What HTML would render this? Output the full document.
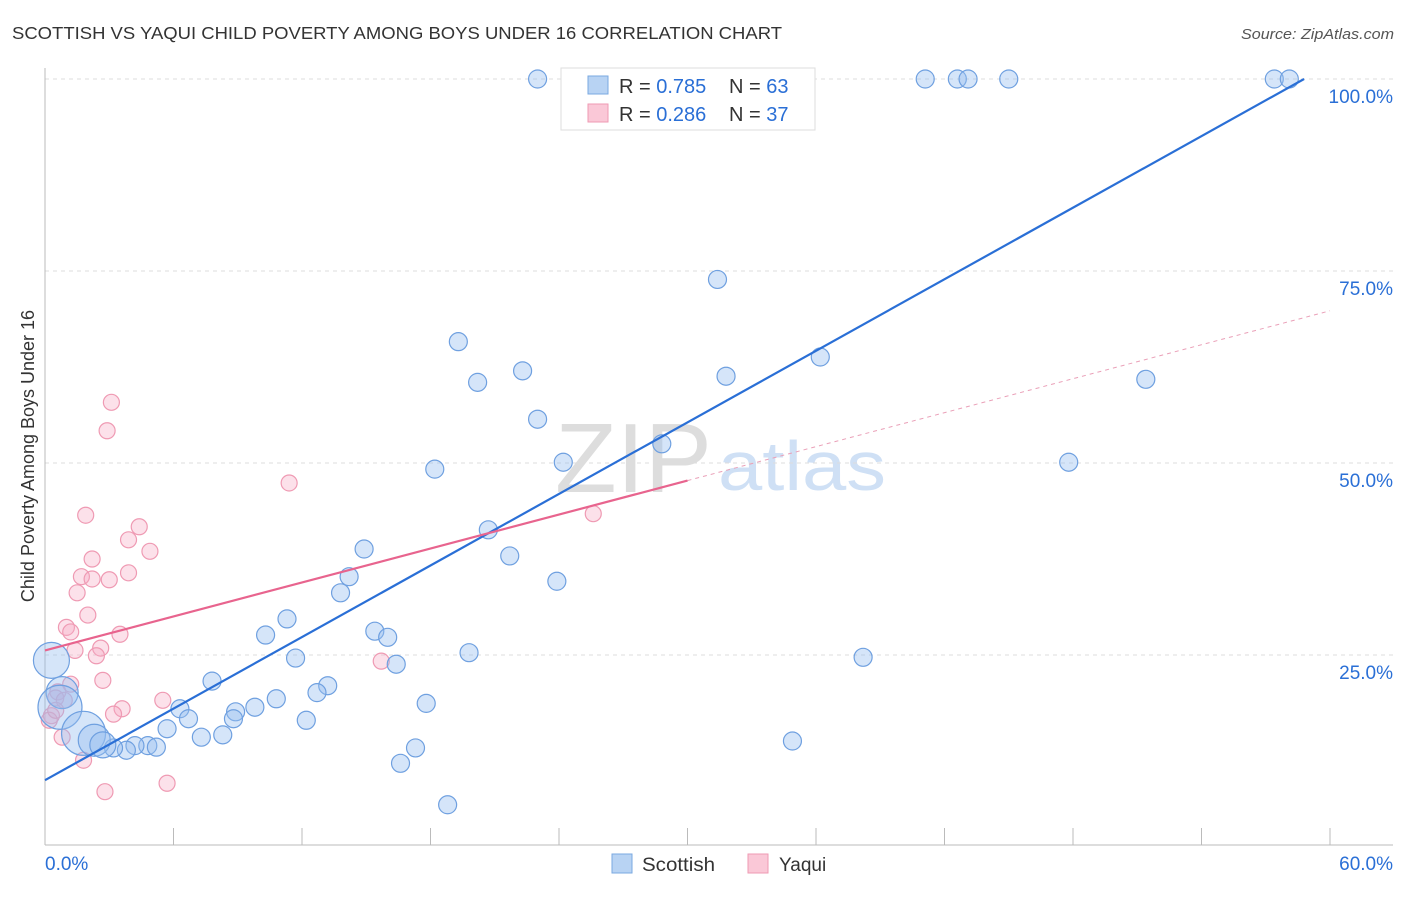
<!DOCTYPE html>
<html><head><meta charset="utf-8"><style>
body{margin:0;background:#fff;font-family:"Liberation Sans",sans-serif}
svg text{font-family:"Liberation Sans",sans-serif}
</style></head><body>
<svg id="c" width="1406" height="892">
<text x="12" y="39" font-size="17.5" fill="#333" textLength="770" lengthAdjust="spacingAndGlyphs">SCOTTISH VS YAQUI CHILD POVERTY AMONG BOYS UNDER 16 CORRELATION CHART</text>
<text x="1394" y="39" font-size="15" fill="#555" font-style="italic" text-anchor="end" textLength="153" lengthAdjust="spacingAndGlyphs">Source: ZipAtlas.com</text>
<text x="555" y="492" font-size="98" fill="#ddd" font-family="Liberation Serif" textLength="157" lengthAdjust="spacingAndGlyphs">ZIP</text>
<text x="718" y="490" font-size="70" fill="#cfe0f5" textLength="168" lengthAdjust="spacingAndGlyphs">atlas</text>
<text transform="translate(34,456) rotate(-90)" font-size="18" fill="#333" text-anchor="middle">Child Poverty Among Boys Under 16</text>
<g id="grid"></g><g id="axes"></g><g id="pts"></g><g id="lines"></g>
<g>
<rect x="561" y="68" width="254" height="62" fill="#fff" stroke="#ddd"/>
<rect x="588" y="76" width="20" height="18" fill="#b8d3f3" stroke="#7aa8e0"/>
<rect x="588" y="104" width="20" height="18" fill="#fac8d7" stroke="#ef9ab3"/>
<text x="619" y="93" font-size="20" fill="#333">R = <tspan fill="#2a6fd6">0.785</tspan><tspan x="729">N = </tspan><tspan fill="#2a6fd6">63</tspan></text>
<text x="619" y="121" font-size="20" fill="#333">R = <tspan fill="#2a6fd6">0.286</tspan><tspan x="729">N = </tspan><tspan fill="#2a6fd6">37</tspan></text>
</g>
<g>
<rect x="612" y="854" width="20" height="19" fill="#b8d3f3" stroke="#7aa8e0"/>
<text x="642" y="871" font-size="19" fill="#333" textLength="73" lengthAdjust="spacingAndGlyphs">Scottish</text>
<rect x="748" y="854" width="20" height="19" fill="#fac8d7" stroke="#ef9ab3"/>
<text x="779" y="871" font-size="19" fill="#333">Yaqui</text>
</g>
</svg>
<script>
const xTicks=[0,6,12,18,24,30,36,42,48,54,60];
const yTicks=[25,50,75,100];
const xLabels=["0.0%","60.0%"];
const scotX=[23.0,27.2,41.1,42.6,43.1,45.0,57.4,58.1,31.4,19.3,22.3,20.2,31.8,36.2,51.4,23.0,28.8,24.2,47.8,18.2,20.7,14.9,21.7,14.2,23.9,13.8,11.3,10.3,15.4,16.0,11.7,19.8,38.2,16.4,7.8,13.2,12.7,10.8,17.8,6.3,9.8,8.9,6.7,8.8,12.2,5.7,7.3,8.3,34.9,17.3,4.8,5.2,4.2,3.8,3.2,16.6,18.8,0.3,0.8,0.7,1.8,2.3,2.7];
const scotY=[100,100,100,100,100,100,100,100,73.9,65.8,62.0,60.5,61.3,63.8,60.9,55.7,52.5,50.1,50.1,49.2,41.3,38.8,37.9,35.2,34.6,33.1,29.7,27.6,28.1,27.3,24.6,25.3,24.7,23.8,21.6,21.0,20.1,19.3,18.7,18.0,18.2,17.6,16.7,16.7,16.5,15.4,14.3,14.6,13.8,12.9,13.2,13.0,13.2,12.6,12.9,10.9,5.5,24.3,20.1,18.2,14.8,13.9,13.3];
const scotR=[9,9,9,9,9,9,9,9,9,9,9,9,9,9,9,9,9,9,9,9,9,9,9,9,9,9,9,9,9,9,9,9,9,9,9,9,9,9,9,9,9,9,9,9,9,9,9,9,9,9,9,9,9,9,9,9,9,18,16,22,22,16,13];
const yaqX=[3.1,2.9,11.4,25.6,1.9,4.4,3.9,4.9,2.2,1.7,2.2,3.0,3.9,1.5,2.0,1.0,1.2,3.5,1.4,2.6,2.4,15.7,2.7,1.2,0.6,0.5,0.9,5.5,3.6,3.2,0.3,0.2,0.8,1.8,5.7,2.8,0.5];
const yaqY=[57.9,54.2,47.4,43.4,43.2,41.7,40.0,38.5,37.5,35.2,34.9,34.8,35.7,33.1,30.2,28.6,28.0,27.7,25.6,25.9,24.9,24.2,21.7,21.2,20.2,19.4,19.1,19.1,18.0,17.3,17.1,16.5,14.3,11.3,8.3,7.2,17.8];
const scotLine=[8.7,1.553];
const yaqLine=[25.6,0.737];
const NS="http://www.w3.org/2000/svg";
const X=v=>45+v/60*1285, Y=v=>847-v*7.68;
function mk(p,t,a){const e=document.createElementNS(NS,t);for(const k in a)e.setAttribute(k,a[k]);p.appendChild(e);return e;}
const grid=document.getElementById('grid'),axes=document.getElementById('axes'),pts=document.getElementById('pts'),lines=document.getElementById('lines');
yTicks.forEach(v=>{
const l=mk(grid,'line',{x1:45,x2:1393,y1:Y(v),y2:Y(v),stroke:'#ddd','stroke-dasharray':'4,4'});


const t=mk(grid,'text',{x:1393,y:Y(v)+24,'font-size':19,fill:'#2a6fd6','text-anchor':'end'});t.textContent=v.toFixed(1)+'%';


});
const ax=mk(axes,'line',{x1:45,x2:45,y1:68,y2:845,stroke:'#bbb'});


const bx=mk(axes,'line',{x1:45,x2:1393,y1:845,y2:845,stroke:'#bbb'});


xTicks.forEach(v=>{const t=mk(axes,'line',{x1:X(v),x2:X(v),y1:828,y2:845,stroke:'#bbb'});

});
const l0=mk(axes,'text',{x:45,y:870,'font-size':19,fill:'#2a6fd6'});l0.textContent=xLabels[0];


const l1=mk(axes,'text',{x:1393,y:870,'font-size':19,fill:'#2a6fd6','text-anchor':'end'});l1.textContent=xLabels[1];


yaqX.forEach((x,i)=>{const c=mk(pts,'circle',{cx:X(x),cy:Y(yaqY[i]),r:8,fill:'rgba(246,170,195,0.35)',stroke:'#ef9ab3','stroke-width':1.2});

});
scotX.forEach((x,i)=>{const c=mk(pts,'circle',{cx:X(x),cy:Y(scotY[i]),r:scotR[i],fill:'rgba(150,190,240,0.4)',stroke:'#6fa0e0','stroke-width':1.2});

});
const xe=(100-scotLine[0])/scotLine[1];
const bl=mk(lines,'line',{x1:X(0),y1:Y(scotLine[0]),x2:X(xe),y2:Y(100),stroke:'#2a6fd6','stroke-width':2.2});


const pl=mk(lines,'line',{x1:X(0),y1:Y(yaqLine[0]),x2:X(30),y2:Y(yaqLine[0]+30*yaqLine[1]),stroke:'#e8648e','stroke-width':2.2});


const pd=mk(lines,'line',{x1:X(30),y1:Y(yaqLine[0]+30*yaqLine[1]),x2:X(60),y2:Y(yaqLine[0]+60*yaqLine[1]),stroke:'#eaa0b8','stroke-width':1,'stroke-dasharray':'4,4'});


</script>
</body></html>
